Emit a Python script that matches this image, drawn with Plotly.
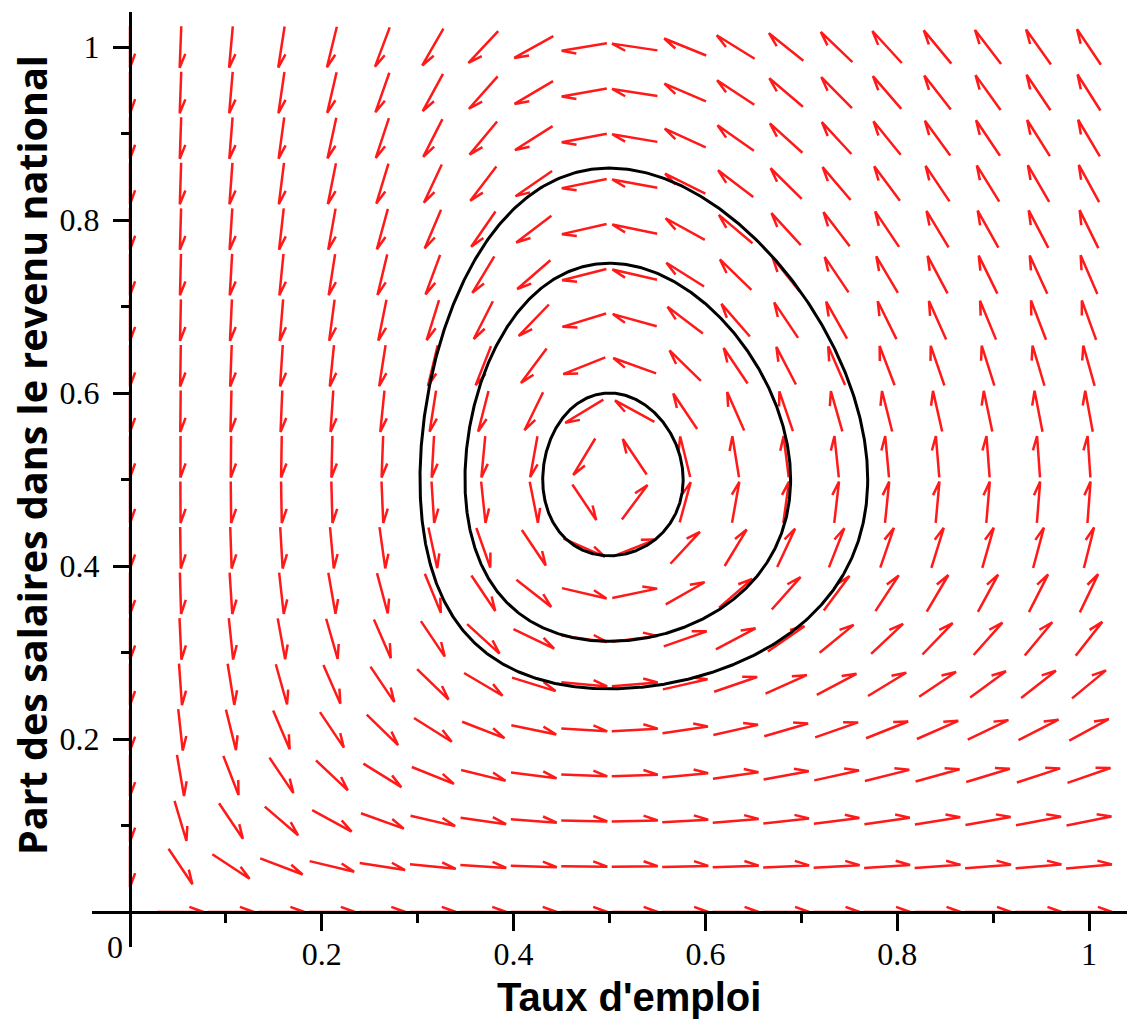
import math
import numpy as np
import plotly.graph_objects as go

# ---------------- data ----------------
# Lotka-Volterra (Goodwin) model: dx/dt = a*x*(y* - y), dy/dt = c*y*(x - x*)
EQ_X = 0.5          # equilibrium employment rate
EQ_Y = 0.5          # equilibrium wage share
RATE_A = 1.0        # speed of employment response
RATE_C = 1.65       # speed of wage-share response
FIELD_MIN, FIELD_MAX, FIELD_N = 0.0, 1.0, 20      # direction-field grid
ORBIT_TOPS = [0.60, 0.75, 0.86]                    # highest wage share of each orbit

X_TICKS = [0.2, 0.4, 0.6, 0.8, 1.0]
X_TICK_TEXT = ["0.2", "0.4", "0.6", "0.8", "1"]
X_MINOR = [0.1, 0.3, 0.5, 0.7, 0.9]
Y_TICKS = [0.2, 0.4, 0.6, 0.8, 1.0]
Y_TICK_TEXT = ["0.2", "0.4", "0.6", "0.8", "1"]
Y_MINOR = [0.1, 0.3, 0.5, 0.7, 0.9]
X_TITLE = "Taux d'emploi"
Y_TITLE = "Part des salaires dans le revenu national"

# ---------------- layout geometry ----------------
W, H = 1129, 1019
ML, MR, MT, MB = 92, 2, 12, 72
PX_X = 959.0   # pixels per unit on x
PX_Y = 865.0   # pixels per unit on y
XMIN = -(130 - ML) / PX_X
XMAX = XMIN + (W - ML - MR) / PX_X
YMIN = -(947 - 912) / PX_Y
YMAX = YMIN + (H - MT - MB) / PX_Y

ARROW_LEN = 0.048      # data units
BARB_LEN = 15.0        # px
BARB_ANG = math.radians(20)


def field(x, y):
    return RATE_A * x * (EQ_Y - y), RATE_C * y * (x - EQ_X)


# ---------------- direction field ----------------
grid = np.linspace(FIELD_MIN, FIELD_MAX, FIELD_N)
ax, ay = [], []
for gx in grid:
    for gy in grid:
        u, v = field(gx, gy)
        m = math.hypot(u, v)
        if m == 0:
            continue
        dx, dy = u / m * ARROW_LEN, v / m * ARROW_LEN
        tx, ty = gx - dx / 2, gy - dy / 2
        hx, hy = gx + dx / 2, gy + dy / 2
        # barb in screen space (y down)
        sx, sy = dx * PX_X, -dy * PX_Y
        n = math.hypot(sx, sy)
        rx, ry = -sx / n, -sy / n
        bx = rx * math.cos(BARB_ANG) - ry * math.sin(BARB_ANG)
        by = rx * math.sin(BARB_ANG) + ry * math.cos(BARB_ANG)
        ex, ey = hx + bx * BARB_LEN / PX_X, hy - by * BARB_LEN / PX_Y
        ax += [tx, hx, ex, None]
        ay += [ty, hy, ey, None]


# ---------------- closed orbits (level sets of the first integral) ----------------
def fint(x, y):
    return RATE_C * (x - EQ_X * np.log(x)) + RATE_A * (y - EQ_Y * np.log(y))


base = fint(EQ_X, EQ_Y)
orbits = []
angles = np.linspace(0, 2 * np.pi, 721)
for top in ORBIT_TOPS:
    level = fint(EQ_X, top) - base
    ox, oy = [], []
    for th in angles:
        c, s = math.cos(th), math.sin(th)
        lim = 1e9
        if c < 0:
            lim = min(lim, EQ_X / -c * 0.999999)
        if s < 0:
            lim = min(lim, EQ_Y / -s * 0.999999)
        lo, hi = 0.0, min(lim, 5.0)
        for _ in range(60):
            mid = 0.5 * (lo + hi)
            if fint(EQ_X + mid * c, EQ_Y + mid * s) - base < level:
                lo = mid
            else:
                hi = mid
        ox.append(EQ_X + lo * c)
        oy.append(EQ_Y + lo * s)
    orbits.append((ox, oy))

fig = go.Figure()
fig.add_trace(go.Scatter(x=ax, y=ay, mode="lines",
                         line=dict(color="rgb(255,25,25)", width=2.5),
                         hoverinfo="skip", showlegend=False))
for ox, oy in orbits:
    fig.add_trace(go.Scatter(x=ox, y=oy, mode="lines",
                             line=dict(color="black", width=3),
                             hoverinfo="skip", showlegend=False))

tickfont = dict(family="Liberation Serif, Times New Roman, serif", size=32, color="black")
fig.update_layout(
    template="none",
    width=W, height=H, autosize=False,
    margin=dict(l=ML, r=MR, t=MT, b=MB, pad=0),
    paper_bgcolor="white", plot_bgcolor="white",
    showlegend=False,
    xaxis=dict(range=[XMIN, XMAX], showgrid=False, zeroline=False,
               showline=True, linecolor="black", linewidth=3,
               anchor="free", position=(0 - YMIN) / (YMAX - YMIN),
               ticks="outside", tickvals=X_TICKS, ticktext=X_TICK_TEXT,
               ticklen=17, tickwidth=3, tickcolor="black", tickfont=tickfont,
               ticklabelstandoff=-4,
               minor=dict(tickvals=X_MINOR, ticks="outside", ticklen=9,
                          tickwidth=3, tickcolor="black", showgrid=False),
               automargin=False, layer="above traces"),
    yaxis=dict(range=[YMIN, YMAX], showgrid=False, zeroline=False,
               showline=True, linecolor="black", linewidth=3,
               anchor="free", position=(0 - XMIN) / (XMAX - XMIN),
               ticks="outside", tickvals=Y_TICKS, ticktext=Y_TICK_TEXT,
               ticklen=16, tickwidth=3, tickcolor="black", tickfont=tickfont,
               ticklabelstandoff=7,
               minor=dict(tickvals=Y_MINOR, ticks="outside", ticklen=8,
                          tickwidth=3, tickcolor="black", showgrid=False),
               automargin=False, layer="above traces"),
    annotations=[
        dict(text="0", x=0, y=0, xref="x", yref="y", showarrow=False,
             xanchor="center", yanchor="middle", xshift=-15, yshift=-35,
             font=tickfont),
        dict(text="<b>" + X_TITLE + "</b>", x=(629 - ML) / (W - ML - MR), y=0,
             xref="paper", yref="paper",
             showarrow=False, xanchor="center", yanchor="middle", yshift=-(997 - 947),
             font=dict(family="Liberation Sans, Arial, sans-serif", size=40, color="black")),
        dict(text="<b>" + Y_TITLE + "</b>", x=0, y=(947 - 455) / (H - MT - MB),
             xref="paper", yref="paper", showarrow=False, textangle=-90,
             xanchor="center", yanchor="middle", xshift=32 - ML,
             font=dict(family="Open Sans, sans-serif", size=39.5, color="black")),
    ],
)

fig.write_html("out.html", include_plotlyjs=True, full_html=True,
               config={"displayModeBar": False},
               post_script="document.body.style.margin='0';document.body.style.overflow='hidden';")
